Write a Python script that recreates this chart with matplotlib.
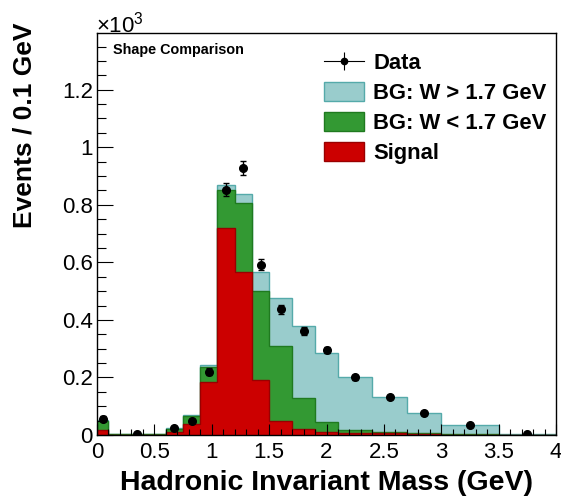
import numpy as np
import matplotlib
matplotlib.use("Agg")
import matplotlib.pyplot as plt
from matplotlib.lines import Line2D
from matplotlib.patches import Patch
from matplotlib.legend_handler import HandlerTuple
from matplotlib.ticker import MultipleLocator, FuncFormatter

plt.rcParams['font.family'] = ['Liberation Sans', 'DejaVu Sans']
plt.rcParams['mathtext.fontset'] = 'custom'
plt.rcParams['mathtext.rm'] = 'Liberation Sans'

# =====================================================
# datos (eventos / 0.1 GeV, en unidades de 10^3)
# =====================================================

bordes = [0, 0.1, 0.6, 0.75, 0.9, 1.05, 1.2, 1.35, 1.5, 1.7, 1.9, 2.1, 2.4, 2.7, 3.0, 3.5, 4.0]

senal = [0.019, 0.001, 0.010, 0.039, 0.184, 0.720, 0.565, 0.190, 0.050, 0.020,
         0.011, 0.008, 0.006, 0.002, 0.001, 0.000]
bg_bajo = [0.029, 0.003, 0.011, 0.027, 0.054, 0.133, 0.241, 0.310, 0.260, 0.107,
           0.033, 0.008, 0.006, 0.005, 0.001, 0.001]
bg_alto = [0.005, 0.001, 0.004, 0.002, 0.005, 0.015, 0.031, 0.068, 0.166, 0.253,
           0.242, 0.184, 0.120, 0.069, 0.033, 0.004]

datos = [0.057, 0.003, 0.024, 0.049, 0.220, 0.853, 0.928, 0.592, 0.437, 0.360,
         0.296, 0.200, 0.132, 0.076, 0.036, 0.005]
err_datos = [0.008, 0.002, 0.005, 0.007, 0.012, 0.023, 0.023, 0.019, 0.016, 0.014,
             0.011, 0.008, 0.007, 0.005, 0.003, 0.001]

etiquetas = ["Data", "BG: W > 1.7 GeV", "BG: W < 1.7 GeV", "Signal"]

# =====================================================
# figura
# =====================================================

W, H = 561, 499
fig = plt.figure(figsize=(W / 100, H / 100), dpi=100)
ax = fig.add_axes([97 / W, 1 - 435 / H, (556 - 97) / W, (435 - 33) / H])

bordes = np.array(bordes)
centros = 0.5 * (bordes[:-1] + bordes[1:])
s = np.array(senal)
g = s + np.array(bg_bajo)
t = g + np.array(bg_alto)

c_teal, e_teal = "#99cccc", "#55aaaa"
c_verde, e_verde = "#339933", "#1f7a1f"
c_rojo, e_rojo = "#cc0000", "#990000"

ax.stairs(t, bordes, baseline=0, fill=True, facecolor=c_teal, edgecolor=e_teal, linewidth=1)
ax.stairs(g, bordes, baseline=0, fill=True, facecolor=c_verde, edgecolor=e_verde, linewidth=1)
ax.stairs(s, bordes, baseline=0, fill=True, facecolor=c_rojo, edgecolor=e_rojo, linewidth=1)

ax.errorbar(centros, datos, yerr=err_datos, fmt="o", color="k", markersize=5.5,
            elinewidth=1, capsize=2, capthick=1, zorder=5)

ax.set_xlim(0, 4)
ax.set_ylim(0, 1.397)

ax.xaxis.set_major_locator(MultipleLocator(0.5))
ax.xaxis.set_minor_locator(MultipleLocator(0.1))
ax.yaxis.set_major_locator(MultipleLocator(0.2))
ax.yaxis.set_minor_locator(MultipleLocator(0.05))
fmt = FuncFormatter(lambda v, p: "%g" % round(v, 3))
ax.xaxis.set_major_formatter(fmt)
ax.yaxis.set_major_formatter(fmt)

ax.tick_params(axis="both", which="both", direction="in", top=False, right=False,
               width=0.8, labelsize=16)
ax.tick_params(axis="x", which="major", length=8, pad=5)
ax.tick_params(axis="x", which="minor", length=4)
ax.tick_params(axis="y", which="major", length=11.5, pad=3)
ax.tick_params(axis="y", which="minor", length=6.3)
for sp in ax.spines.values():
    sp.set_linewidth(1)

fig.text(326 / W, 1 - 483 / H, "Hadronic Invariant Mass (GeV)", fontsize=20.5,
         fontweight="bold", ha="center", va="center")
fig.text(25 / W, 1 - 23 / H, "Events / 0.1 GeV", fontsize=19, fontweight="bold",
         rotation=90, ha="center", va="top")
fig.text(96 / W, 1 - 32 / H, r"$\times$10$^{3}$", fontsize=16, ha="left", va="baseline")
ax.text(113 / W, 1 - 50 / H, "Shape Comparison", transform=fig.transFigure,
        fontsize=10.4, fontweight="bold", ha="left", va="center")

# leyenda
h_datos = (Line2D([], [], color="k", lw=0.8),
           Line2D([], [], color="k", lw=0, marker="|", markersize=13, markeredgewidth=0.8),
           Line2D([], [], color="k", lw=0, marker="o", markersize=4.5))
h_alto = Patch(facecolor=c_teal, edgecolor=e_teal)
h_bajo = Patch(facecolor=c_verde, edgecolor=e_verde)
h_senal = Patch(facecolor=c_rojo, edgecolor=e_rojo)

ax.legend([h_datos, h_alto, h_bajo, h_senal], etiquetas,
          handler_map={tuple: HandlerTuple(ndivide=1)},
          loc="upper left", bbox_to_anchor=(324 / W, 1 - 52 / H),
          bbox_transform=fig.transFigure, frameon=False, borderpad=0,
          borderaxespad=0, handlelength=1.83, handleheight=0.96,
          handletextpad=0.42, labelspacing=0.36,
          prop={"size": 15.8, "weight": "bold"})

fig.savefig("out.png", dpi=100)
